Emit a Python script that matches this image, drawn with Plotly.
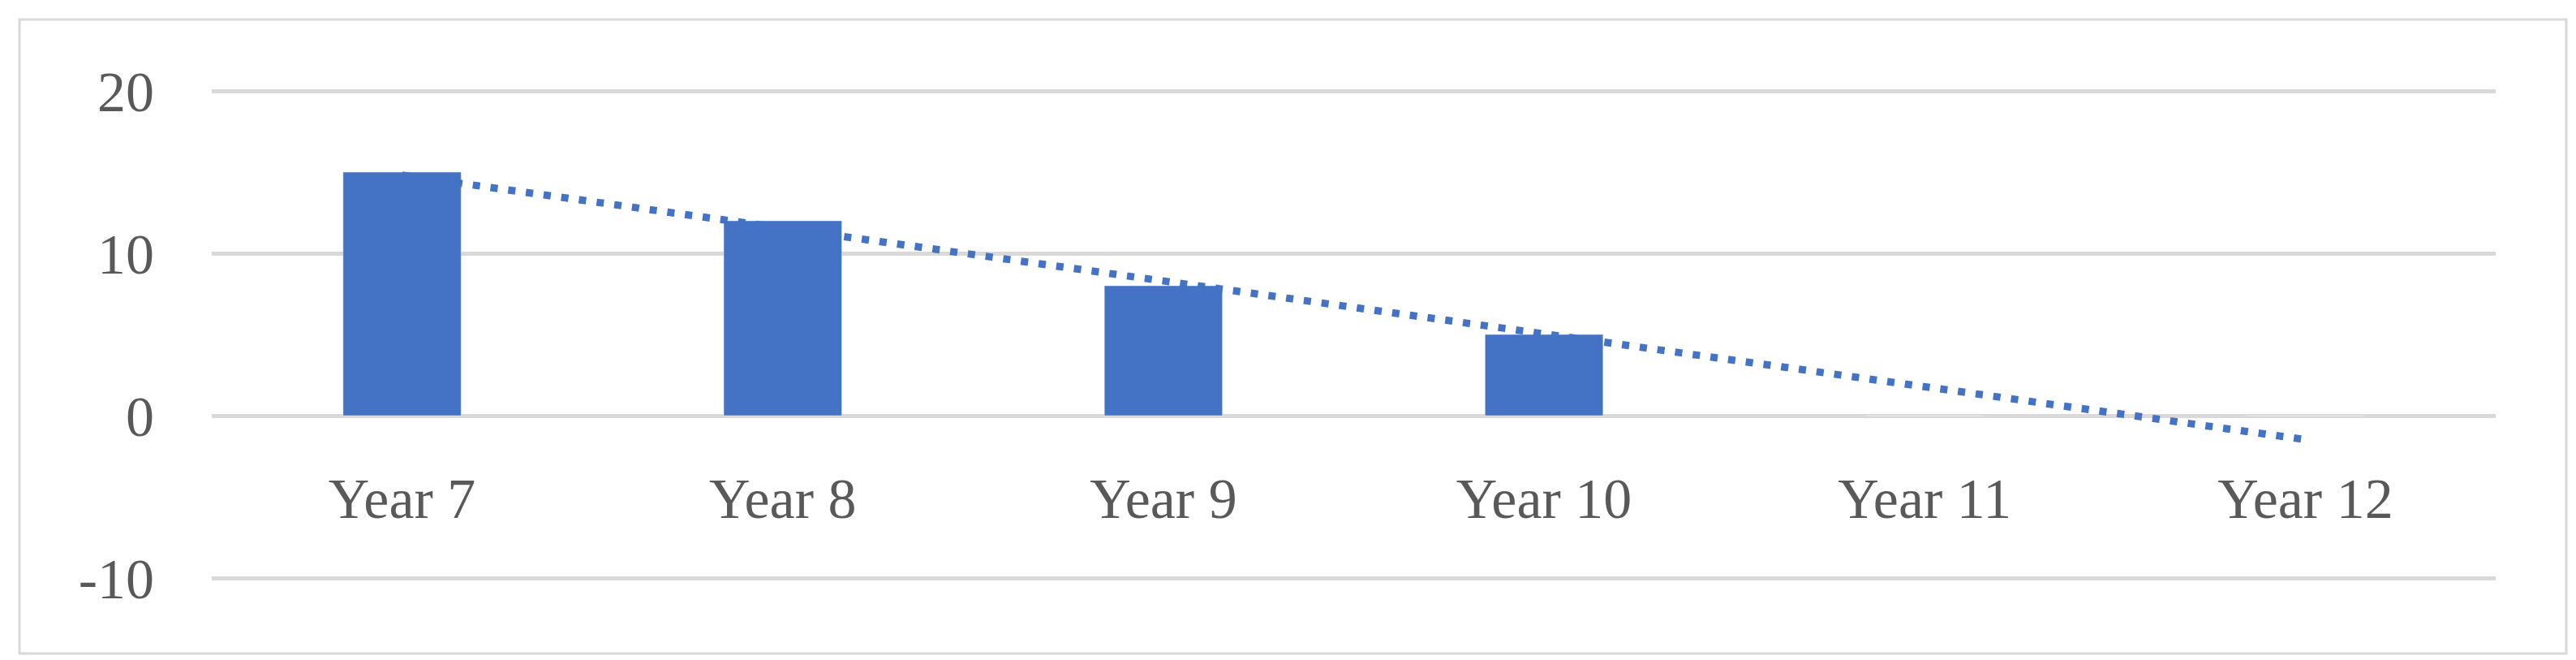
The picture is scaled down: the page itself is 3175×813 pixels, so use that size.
import numpy as np
import plotly.graph_objects as go

categories = ["Year 7", "Year 8", "Year 9", "Year 10", "Year 11", "Year 12"]
values = [15, 12, 8, 5, 0, 0]
y_ticks = [-10, 0, 10, 20]
y_tick_text = ["-10", "0", "10", "20"]

x_idx = np.arange(1, len(values) + 1)
slope, intercept = np.polyfit(x_idx, values, 1)
trend = slope * x_idx + intercept

W, H = 3175, 813
ml, mr, mt, mb = 253, 107, 100, 105
pw, ph = W - ml - mr, H - mt - mb

fig = go.Figure()
fig.add_bar(x=categories, y=values, marker_color="#4472C4", width=0.31)
fig.add_scatter(x=categories, y=trend, mode="lines",
                line=dict(color="#4472C4", width=9, dash="9px,13px"))

def px(xp): return (xp - ml) / pw
def py(yp): return (H - mb - yp) / ph

fig.add_shape(type="rect", xref="paper", yref="paper",
              x0=px(16), x1=px(3155), y0=py(797), y1=py(16),
              line=dict(color="#D9D9D9", width=3), fillcolor="rgba(0,0,0,0)")

fig.update_layout(
    width=W, height=H, showlegend=False,
    margin=dict(l=ml, r=mr, t=mt, b=mb),
    plot_bgcolor="white", paper_bgcolor="white",
    font=dict(family="Liberation Serif, DejaVu Serif, serif", size=70, color="#595959"),
)
fig.update_xaxes(anchor="free", position=10.2/30.4, showline=False, showgrid=False,
                 ticks="", ticklabelstandoff=55, zeroline=False)
fig.update_yaxes(range=[-10.2, 20.2], tickvals=y_ticks, ticktext=y_tick_text, showgrid=True,
                 gridcolor="#D9D9D9", gridwidth=5, zeroline=False,
                 ticklabelstandoff=70, showline=False)
fig.write_html("out.html")
